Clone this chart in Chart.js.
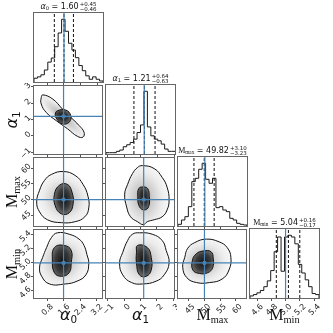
<!DOCTYPE html>
<html><head><meta charset="utf-8">
<script src="https://cdn.jsdelivr.net/npm/chart.js@4/dist/chart.umd.min.js"></script>
<style>
html,body{margin:0;padding:0;background:#fff;width:333px;height:333px;overflow:hidden;}
#wrap{position:relative;width:333px;height:333px;}
#wrap canvas{position:absolute;}
.ttl{position:absolute;font-family:"DejaVu Sans";font-size:8px;line-height:9px;white-space:nowrap;color:#111;transform:translateX(-50%);z-index:5;}
.pm{display:inline-block;vertical-align:-2px;font-size:5.5px;line-height:5px;margin-left:1px;}
.pm span{display:block;}
.lab{position:absolute;font-family:"DejaVu Sans";font-size:16px;line-height:16px;white-space:nowrap;color:#111;z-index:5;}
.lab sub,.ttl sub{font-size:65%;vertical-align:-0.25em;line-height:0;}
.rm{font-family:"Liberation Serif","DejaVu Serif";}
.it{font-style:italic;}
</style></head><body><div id="wrap"></div>
<script>
// ---------------- data ----------------
const truthValues = [1.6, 1.2, 50, 5.0];
const q16 = [1.14, 0.58, 46.59, 4.87];
const q50 = [1.60, 1.21, 49.82, 5.04];
const q84 = [2.05, 1.85, 52.92, 5.20];
const titleMedian = ["1.60", "1.21", "49.82", "5.04"];
const titlePlus = ["0.45", "0.64", "3.10", "0.16"];
const titleMinus = ["0.46", "0.63", "3.23", "0.17"];

const alpha0Range = [0.17, 3.46];
const alpha1Range = [-1.1, 3.05];
const mmaxRange = [41.6, 63.2];
const mminRange = [4.5, 5.47];

const alpha0Ticks = [0.8, 1.6, 2.4, 3.2];
const alpha1Ticks = [-1, 0, 1, 2, 3];
const mmaxTicks = [45, 50, 55, 60];
const mminTicks = [4.6, 4.8, 5.0, 5.2, 5.4];
const tickDecimals = [1, 0, 0, 1];

const alpha0Hist = [11, 15, 21, 35, 58, 70, 103, 143, 183, 148, 113, 93, 71, 48, 33, 18, 8, 15, 8, 3];
const alpha1Hist = [4, 4, 4, 8, 12, 22, 28, 35, 45, 65, 88, 190, 82, 55, 45, 40, 30, 15, 8, 8];
const mmaxHist = [5, 18, 28, 58, 133, 143, 170, 188, 140, 128, 143, 55, 58, 48, 43, 23, 18, 8, 5, 3];
const mminHist = [6, 10, 15, 22, 33, 50, 80, 135, 178, 78, 178, 183, 178, 158, 98, 73, 53, 33, 13, 10];

// contour levels, in data units [x, y]
const a0a1Outer = [[0.60,2.51],[1.08,2.25],[1.55,1.64],[1.95,1.14],[2.35,0.64],[2.59,0.23],[2.54,-0.07],[2.27,-0.02],[1.79,0.44],[1.24,0.94],[0.76,1.44],[0.52,1.95],[0.52,2.34]];
const a0a1Inner = [[1.31,1.54],[1.71,1.58],[1.95,1.24],[1.87,0.84],[1.55,0.74],[1.27,1.04],[1.20,1.34]];
const a0MmaxOuter = [[1.01,57.97],[1.59,58.9],[2.16,57.66],[2.54,54.84],[2.78,51.09],[2.82,47.34],[2.63,44.53],[2.16,42.97],[1.49,42.66],[0.82,43.59],[0.44,46.09],[0.30,49.22],[0.44,52.97],[0.68,56.09]];
const a0MmaxInner = [[1.40,54.53],[1.78,54.84],[2.01,52.34],[2.06,48.59],[1.87,45.78],[1.49,45.47],[1.20,47.97],[1.16,51.72]];
const a1MmaxOuter = [[1.12,60.78],[1.84,59.84],[2.33,57.03],[2.63,53.91],[2.75,49.84],[2.63,46.72],[2.33,44.53],[1.84,43.59],[1.42,42.97],[1.18,42.03],[0.82,42.97],[0.40,44.53],[0.16,47.66],[0.04,51.72],[0.22,54.84],[0.52,58.28],[0.82,60.16]];
const a1MmaxInner = [[1.14,54.0],[1.44,53.5],[1.54,50.9],[1.50,47.75],[1.24,46.7],[0.94,47.75],[0.84,50.9],[0.90,53.5]];
const a0MminOuter = [[1.30,5.43],[1.87,5.41],[2.35,5.34],[2.59,5.25],[2.73,5.12],[2.82,4.99],[2.68,4.83],[2.25,4.74],[1.68,4.70],[0.92,4.70],[0.54,4.81],[0.44,4.94],[0.59,5.08],[0.78,5.22],[1.01,5.36]];
const a0MminInner = [[1.16,5.22],[1.63,5.25],[1.97,5.18],[1.97,5.0],[1.87,4.86],[1.49,4.81],[1.16,4.86],[1.06,5.04]];
const a1MminOuter = [[0.94,5.43],[1.72,5.41],[2.33,5.32],[2.57,5.18],[2.75,5.0],[2.45,4.83],[1.96,4.74],[1.12,4.70],[0.46,4.72],[-0.08,4.83],[-0.27,5.0],[-0.08,5.15],[0.22,5.32],[0.52,5.41]];
const a1MminInner = [[0.82,5.25],[1.42,5.22],[1.66,5.08],[1.66,4.90],[1.36,4.81],[0.94,4.83],[0.76,5.0],[0.76,5.15]];
const mmaxMminOuter = [[46.9,5.29],[50.6,5.34],[54.7,5.30],[57.2,5.22],[58.4,5.08],[57.8,4.90],[55.6,4.77],[51.6,4.72],[47.5,4.72],[44.4,4.79],[43.1,4.94],[43.75,5.08],[44.7,5.21]];
const mmaxMminInner = [[47.4,5.13],[49.5,5.17],[52.1,5.16],[52.8,5.06],[52.6,4.93],[51.0,4.86],[48.4,4.85],[46.3,4.90],[46.2,5.04]];

// ---------------- assembly ----------------
const ranges = [alpha0Range, alpha1Range, mmaxRange, mminRange];
const tickSets = [alpha0Ticks, alpha1Ticks, mmaxTicks, mminTicks];
const hists = [alpha0Hist, alpha1Hist, mmaxHist, mminHist];
const contours = {
  "01": [a0a1Outer, a0a1Inner], "02": [a0MmaxOuter, a0MmaxInner], "12": [a1MmaxOuter, a1MmaxInner],
  "03": [a0MminOuter, a0MminInner], "13": [a1MminOuter, a1MminInner], "23": [mmaxMminOuter, mmaxMminInner]
};
const nameHTML = [
  '<span class="it">α</span><sub>0</sub>', '<span class="it">α</span><sub>1</sub>',
  '<span class="rm">M<sub>max</sub></span>', '<span class="rm">M<sub>min</sub></span>'
];

// layout / style
const L = [34, 106, 178, 250], T = [13, 85, 157, 229], W = 69, H = 69;
const ML = 32, MR = 2, MT = 2, MB = 28;
const BLUE = '#4682b4';
const SHADES = {
  outer: [[0, '#9c9c9c'], [0.35, '#cdcdcd'], [0.7, '#ebebeb'], [1, '#f8f8f8']],
  inner: [[0, '#141414'], [0.6, '#3a3a3a'], [1, '#727272']]
};
const fmt = (c, v) => v.toFixed(tickDecimals[c]).replace('-', '\u2212');

const polyPlugin = {
  id: 'poly',
  afterDatasetUpdate(chart, args) {
    const ds = chart.data.datasets[args.index];
    if (ds.closed) { args.meta.dataset._loop = true; args.meta.dataset._fullLoop = true; }
  },
  beforeDatasetDraw(chart, args) {
    const ds = chart.data.datasets[args.index];
    if (!ds.shade) return;
    const meta = args.meta, line = meta.dataset, ctx = chart.ctx, a = chart.chartArea;
    line.updateControlPoints(a, 'x');
    const refIdx = chart.data.datasets.findIndex(d => d.shade === 'inner');
    const refPts = chart.getDatasetMeta(refIdx).data;
    let cx = 0, cy = 0; refPts.forEach(p => { cx += p.x; cy += p.y; }); cx /= refPts.length; cy /= refPts.length;
    const pts = meta.data;
    let mx = 0, my = 0; pts.forEach(p => { mx += p.x; my += p.y; }); mx /= pts.length; my /= pts.length;
    let sxx = 0, syy = 0, sxy = 0;
    pts.forEach(p => { const dx = p.x - mx, dy = p.y - my; sxx += dx*dx; syy += dy*dy; sxy += dx*dy; });
    const ang = 0.5 * Math.atan2(2*sxy, sxx - syy);
    const tr = (sxx + syy)/2, dd = Math.sqrt(((sxx - syy)/2)**2 + sxy*sxy);
    const ratio = Math.sqrt(Math.max(tr - dd, 1e-6) / (tr + dd));
    const ca = Math.cos(ang), sa = Math.sin(ang);
    let R = 0;
    pts.forEach(p => { const dx = p.x - cx, dy = p.y - cy; const u = dx*ca + dy*sa, v = (-dx*sa + dy*ca)/ratio; R = Math.max(R, Math.hypot(u, v)); });
    ctx.save();
    ctx.beginPath(); ctx.rect(a.left, a.top, a.right - a.left, a.bottom - a.top); ctx.clip();
    ctx.beginPath(); line.path(ctx); ctx.closePath();
    ctx.translate(cx, cy); ctx.rotate(ang); ctx.scale(1, ratio);
    const g = ctx.createRadialGradient(0, 0, 0, 0, 0, R);
    SHADES[ds.shade].forEach(([o, col]) => g.addColorStop(o, col));
    ctx.fillStyle = g; ctx.fill();
    ctx.restore();
  }
};
const framePlugin = {
  id: 'frame',
  afterDraw(chart) {
    const a = chart.chartArea, ctx = chart.ctx;
    ctx.save(); ctx.strokeStyle = '#666'; ctx.lineWidth = 1;
    ctx.strokeRect(a.left - 0.5, a.top - 0.5, a.right - a.left + 1, a.bottom - a.top + 1);
    ctx.restore();
  }
};

const wrap = document.getElementById('wrap');
const fitX = s => { s.height = MB; s.paddingLeft = s.paddingRight = s.paddingTop = s.paddingBottom = 0; };
const fitY = s => { s.width = ML; s.paddingLeft = s.paddingRight = s.paddingTop = s.paddingBottom = 0; };
const tickFont = { family: 'DejaVu Sans', size: 8 };

function panel(r, c) {
  const isHist = r === c;
  const xr = ranges[c];
  const cv = document.createElement('canvas');
  cv.width = W + ML + MR; cv.height = H + MT + MB;
  cv.style.left = (L[c] - ML) + 'px'; cv.style.top = (T[r] - MT) + 'px';
  wrap.appendChild(cv);
  const datasets = [];
  let yOpts;
  const base = { pointRadius: 0, pointHoverRadius: 0, fill: false };
  if (isHist) {
    const counts = hists[c], n = counts.length;
    const edge = k => xr[0] + (xr[1] - xr[0]) * k / n;
    const pts = [{ x: edge(0), y: 0 }];
    counts.forEach((v, i) => pts.push({ x: edge(i), y: v }));
    pts.push({ x: edge(n), y: counts[n - 1] }, { x: edge(n), y: 0 });
    const ymax = 1.1 * Math.max(...counts);
    datasets.push({ ...base, data: pts, stepped: true, borderColor: '#1a1a1a', borderWidth: 1, order: 3 });
    [q16[c], q50[c], q84[c]].forEach(q => datasets.push({ ...base, data: [{ x: q, y: 0 }, { x: q, y: ymax }], borderColor: '#111', borderWidth: 1, borderDash: [3, 2], order: 2 }));
    datasets.push({ ...base, data: [{ x: truthValues[c], y: 0 }, { x: truthValues[c], y: ymax }], borderColor: BLUE, borderWidth: 1.2, order: 1 });
    yOpts = { type: 'linear', min: 0, max: ymax, ticks: { display: false }, grid: { display: false }, border: { display: false }, afterFit: fitY };
  } else {
    const yr = ranges[r];
    const [outer, inner] = contours[`${c}${r}`];
    datasets.push({ ...base, data: outer.map(([x, y]) => ({ x, y })), closed: true, shade: 'outer', tension: 0.45, borderColor: '#111', borderWidth: 1, order: 3 });
    datasets.push({ ...base, data: inner.map(([x, y]) => ({ x, y })), closed: true, shade: 'inner', tension: 0.45, borderColor: '#111', borderWidth: 1, order: 2 });
    datasets.push({ ...base, data: [{ x: truthValues[c], y: yr[0] }, { x: truthValues[c], y: yr[1] }], borderColor: BLUE, borderWidth: 1.2, order: 1 });
    datasets.push({ ...base, data: [{ x: xr[0], y: truthValues[r] }, { x: xr[1], y: truthValues[r] }], borderColor: BLUE, borderWidth: 1.2, order: 1 });
    datasets.push({ data: [{ x: truthValues[c], y: truthValues[r] }], showLine: false, pointStyle: 'rect', pointRadius: 2, pointHoverRadius: 2, pointBackgroundColor: BLUE, pointBorderColor: BLUE, order: 0 });
    yOpts = {
      type: 'linear', min: yr[0], max: yr[1],
      afterBuildTicks: s => { s.ticks = tickSets[r].map(v => ({ value: v })); },
      ticks: { display: c === 0, autoSkip: false, minRotation: 45, maxRotation: 45, labelOffset: -3, padding: 1, font: tickFont, color: '#222', callback: v => fmt(r, v) },
      grid: { display: true, drawOnChartArea: false, drawTicks: true, tickLength: 3, color: '#555' },
      border: { display: false }, afterFit: fitY
    };
  }
  new Chart(cv, {
    type: 'line',
    data: { datasets },
    options: {
      responsive: false, animation: false, events: [],
      layout: { padding: { top: MT, right: MR, left: 0, bottom: 0 } },
      plugins: { legend: { display: false }, tooltip: { enabled: false } },
      scales: {
        x: {
          type: 'linear', min: xr[0], max: xr[1],
          afterBuildTicks: s => { s.ticks = tickSets[c].map(v => ({ value: v })); },
          ticks: { display: r === 3, autoSkip: false, minRotation: 45, maxRotation: 45, labelOffset: 5, padding: 1, font: tickFont, color: '#222', callback: v => fmt(c, v) },
          grid: { display: true, drawOnChartArea: false, drawTicks: true, tickLength: 3, color: '#555' },
          border: { display: false }, afterFit: fitX
        },
        y: yOpts
      }
    },
    plugins: [polyPlugin, framePlugin]
  });
}

for (let r = 0; r < 4; r++) for (let c = 0; c <= r; c++) panel(r, c);

// titles over the diagonal
for (let c = 0; c < 4; c++) {
  const d = document.createElement('div');
  d.className = 'ttl';
  d.style.left = (L[c] + W / 2) + 'px';
  d.style.top = (T[c] - 11) + 'px';
  d.innerHTML = `${nameHTML[c]} = ${titleMedian[c]}<span class="pm"><span>+${titlePlus[c]}</span><span>\u2212${titleMinus[c]}</span></span>`;
  wrap.appendChild(d);
}
// bottom axis labels
for (let c = 0; c < 4; c++) {
  const d = document.createElement('div');
  d.className = 'lab';
  d.style.left = (L[c] + W / 2) + 'px';
  d.style.top = '307px';
  d.style.transform = 'translateX(-50%)';
  d.innerHTML = nameHTML[c];
  wrap.appendChild(d);
}
// left axis labels
for (let r = 1; r < 4; r++) {
  const d = document.createElement('div');
  d.className = 'lab';
  d.style.left = '12px';
  d.style.top = (T[r] + H / 2) + 'px';
  d.style.transform = 'translate(-50%,-50%) rotate(-90deg)';
  d.innerHTML = nameHTML[r];
  wrap.appendChild(d);
}
</script></body></html>
